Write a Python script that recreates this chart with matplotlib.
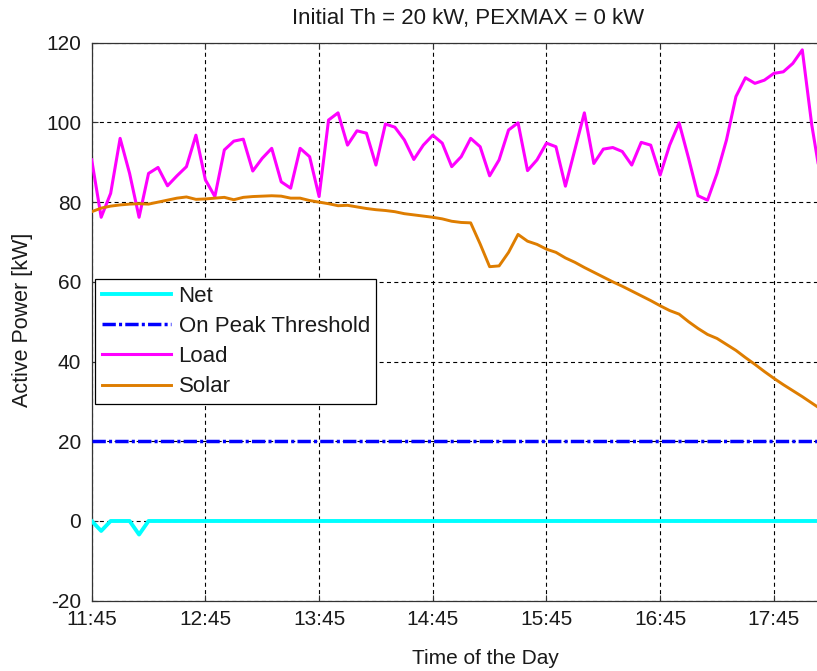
import numpy as np
import matplotlib
matplotlib.use("Agg")
import matplotlib.pyplot as plt

plt.rcParams['font.family'] = ['Liberation Sans', 'DejaVu Sans']
plt.rcParams['lines.scale_dashes'] = False
plt.rcParams['axes.unicode_minus'] = False

# 5-minute samples starting at 11:45
step_min = 5

load_kw = [
    90.6, 76.2, 82.2, 96.0, 87.2, 76.2, 87.2, 88.7, 84.1, 86.6,
    88.9, 96.8, 85.6, 81.4, 93.1, 95.3, 95.8, 87.8, 91.0, 93.5,
    85.1, 83.5, 93.5, 91.4, 81.4, 100.6, 102.4, 94.3, 97.9, 97.3,
    89.3, 99.6, 98.8, 95.6, 90.7, 94.3, 96.8, 94.8, 88.9, 91.4,
    96.0, 93.9, 86.6, 90.6, 98.1, 99.9, 87.9, 90.6, 94.8, 93.9,
    84.0, 93.2, 102.4, 89.7, 93.3, 93.7, 92.7, 89.3, 95.0, 94.3,
    86.8, 94.3, 99.9, 91.0, 81.6, 80.5, 87.2, 95.6, 106.5, 111.2,
    109.8, 110.6, 112.3, 112.7, 114.8, 118.2, 99.4, 85.0, 83.0,
]

solar_kw = [
    77.6, 78.5, 79.0, 79.3, 79.5, 79.6, 79.5, 80.0, 80.5, 81.0,
    81.3, 80.7, 80.8, 81.0, 81.2, 80.6, 81.2, 81.4, 81.5, 81.6,
    81.5, 81.0, 81.0, 80.4, 80.0, 79.6, 79.1, 79.2, 78.8, 78.4,
    78.1, 77.9, 77.6, 77.1, 76.8, 76.5, 76.2, 75.8, 75.2, 74.9,
    74.8, 69.5, 63.8, 64.0, 67.4, 71.9, 70.2, 69.4, 68.2, 67.4,
    66.0, 64.9, 63.6, 62.4, 61.2, 60.0, 58.9, 57.7, 56.5, 55.3,
    54.0, 52.8, 51.9, 50.0, 48.3, 46.8, 45.8, 44.3, 42.8, 41.0,
    39.3, 37.5, 35.8, 34.2, 32.7, 31.2, 29.6, 28.0, 26.5,
]

net_kw = [
    0.0, -2.5, 0.0, 0.0, 0.0, -3.4, 0.0, 0.0, 0.0, 0.0,
    0.0, 0.0, 0.0, 0.0, 0.0, 0.0, 0.0, 0.0, 0.0, 0.0,
    0.0, 0.0, 0.0, 0.0, 0.0, 0.0, 0.0, 0.0, 0.0, 0.0,
    0.0, 0.0, 0.0, 0.0, 0.0, 0.0, 0.0, 0.0, 0.0, 0.0,
    0.0, 0.0, 0.0, 0.0, 0.0, 0.0, 0.0, 0.0, 0.0, 0.0,
    0.0, 0.0, 0.0, 0.0, 0.0, 0.0, 0.0, 0.0, 0.0, 0.0,
    0.0, 0.0, 0.0, 0.0, 0.0, 0.0, 0.0, 0.0, 0.0, 0.0,
    0.0, 0.0, 0.0, 0.0, 0.0, 0.0, 0.0, 0.0, 0.0,
]

threshold_kw = 20.0

time_tick_labels = ["11:45", "12:45", "13:45", "14:45", "15:45", "16:45", "17:45"]
y_ticks = [-20, 0, 20, 40, 60, 80, 100, 120]

minutes = np.arange(len(load_kw)) * step_min
threshold_series = np.full(len(load_kw), threshold_kw)

W, H = 817, 671
fig = plt.figure(figsize=(W / 100, H / 100), dpi=100)
ax = fig.add_axes([91.7 / W, 1 - 600.7 / H, 739.0 / W, 558.0 / H])

ax.plot(minutes, net_kw, color='#00FFFF', lw=2.8, label='Net', zorder=3)
ax.plot(minutes, threshold_series, color='#0000FF', lw=2.5,
        linestyle=(0, (9.6, 2.3, 2.2, 2.3)), dash_capstyle='butt',
        label='On Peak Threshold', zorder=3)
ax.plot(minutes, load_kw, color='#FF00FF', lw=2.2, label='Load', zorder=3)
ax.plot(minutes, solar_kw, color='#DE7D00', lw=2.1, label='Solar', zorder=3)

ax.set_xlim(0, minutes[-1])
ax.set_ylim(-20, 120)
ax.set_xticks(np.arange(len(time_tick_labels)) * 60)
ax.set_xticklabels(time_tick_labels)
ax.set_yticks(y_ticks)

ax.set_axisbelow(True)
ax.grid(True, color='black', lw=0.8, linestyle=(0, (2.9, 2.4)))

for sp in ax.spines.values():
    sp.set_color('#333333')
    sp.set_linewidth(0.9)

ax.tick_params(direction='in', length=4.5, width=0.8, top=True, right=True,
               labelsize=15, colors='#333333', labelcolor='#1a1a1a')
ax.tick_params(axis='y', pad=7.5)
ax.tick_params(axis='x', pad=7.0)

leg = ax.legend(loc='upper left', bbox_to_anchor=(95 / W, 1 - 279.3 / H),
                bbox_transform=fig.transFigure, borderaxespad=0,
                fontsize=16, handlelength=3.1, handletextpad=0.36,
                borderpad=0.3, labelspacing=0.41, fancybox=False,
                framealpha=1.0, edgecolor='black')
leg.get_frame().set_linewidth(0.9)
for t in leg.get_texts():
    t.set_color('#1a1a1a')

fig.text(468 / W, 1 - 24 / H, 'Initial Th = 20 kW, PEXMAX = 0 kW',
         ha='center', va='baseline', fontsize=16, color='#1a1a1a')
fig.text(485 / W, 1 - 664.3 / H, 'Time of the Day',
         ha='center', va='baseline', fontsize=15, color='#1a1a1a')
fig.text(28.5 / W, 1 - 320 / H, 'Active Power [kW]', rotation=90,
         rotation_mode='anchor', ha='center', va='baseline',
         fontsize=15.5, color='#1a1a1a')

fig.savefig('out.png', dpi=100)
